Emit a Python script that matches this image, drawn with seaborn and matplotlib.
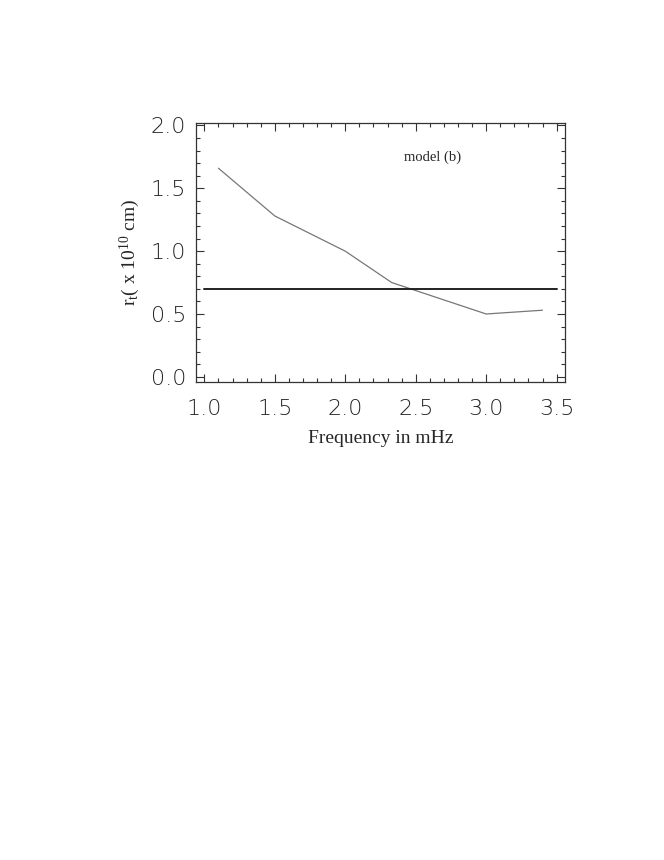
import matplotlib
matplotlib.use("Agg")
import matplotlib.pyplot as plt
from matplotlib.ticker import MultipleLocator
import pandas as pd
import seaborn as sns

# model curve r_t vs frequency
freq = [1.1, 1.5, 2.0, 2.33, 3.0, 3.4]
r_t = [1.66, 1.28, 1.0, 0.75, 0.50, 0.53]

# reference level
ref_freq = [1.0, 3.5]
ref_r = [0.70, 0.70]

sns.set_style("ticks")
plt.rcParams["font.family"] = ["DejaVu Sans"]
plt.rcParams["mathtext.fontset"] = "custom"
plt.rcParams["mathtext.rm"] = "Liberation Serif"
plt.rcParams["mathtext.it"] = "Liberation Serif"

df = pd.DataFrame({"freq": freq, "r_t": r_t})
ref = pd.DataFrame({"freq": ref_freq, "r": ref_r})

fig = plt.figure(figsize=(6.64, 8.6), dpi=100)
ax = fig.add_axes([0.295, 0.556, 0.556, 0.301])

sns.lineplot(data=df, x="freq", y="r_t", ax=ax, color="#777777", linewidth=0.9)
sns.lineplot(data=ref, x="freq", y="r", ax=ax, color="#222222", linewidth=1.4)

ax.set_xlim(0.94, 3.56)
ax.set_ylim(-0.04, 2.02)
ax.xaxis.set_major_locator(MultipleLocator(0.5))
ax.xaxis.set_minor_locator(MultipleLocator(0.1))
ax.yaxis.set_major_locator(MultipleLocator(0.5))
ax.yaxis.set_minor_locator(MultipleLocator(0.1))
ax.xaxis.set_major_formatter(matplotlib.ticker.FormatStrFormatter("%.1f"))
ax.yaxis.set_major_formatter(matplotlib.ticker.FormatStrFormatter("%.1f"))
ax.tick_params(which="both", direction="in", top=True, right=True,
               color="#333333", width=0.8)
ax.tick_params(which="major", length=6, labelsize=16, labelcolor="#222222")
ax.tick_params(axis="x", which="major", pad=12)
ax.tick_params(axis="y", which="major", pad=7)
ax.tick_params(which="minor", length=3)
for lab in ax.get_xticklabels() + ax.get_yticklabels():
    lab.set_fontweight("light")
for s in ax.spines.values():
    s.set_color("#333333")
    s.set_linewidth(0.9)

ax.set_xlabel("Frequency in mHz", family="Liberation Serif", fontsize=14, labelpad=8)
ax.set_ylabel(r"r$_\mathrm{t}$( x 10$^{10}$ cm)", family="Liberation Serif",
              fontsize=14, labelpad=6)
ax.text(2.62, 1.75, "model (b)", family="Liberation Serif", fontsize=10.5,
        ha="center", va="center")

fig.savefig("out.png", dpi=100)
